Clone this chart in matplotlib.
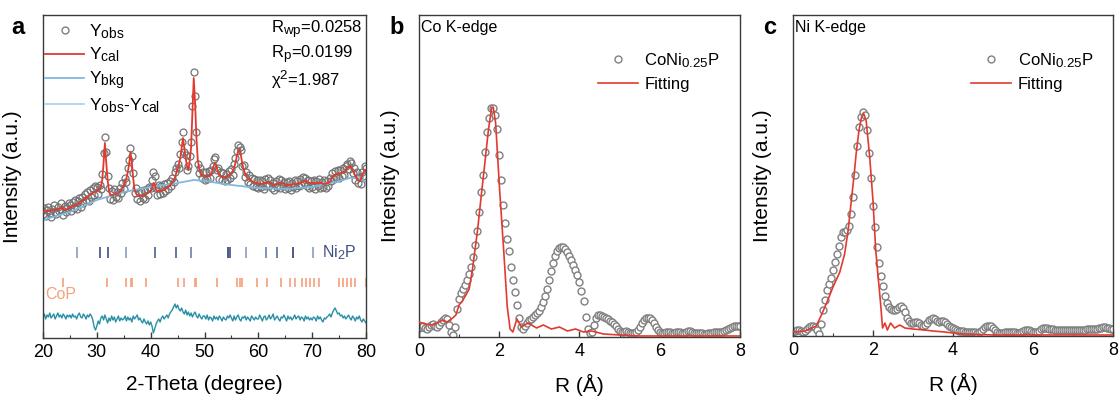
import numpy as np
import matplotlib
matplotlib.use("Agg")
import matplotlib.pyplot as plt
import matplotlib._mathtext as _mt
from matplotlib.lines import Line2D
from matplotlib.ticker import MultipleLocator

_mt.SHRINK_FACTOR = 0.8

plt.rcParams['font.family'] = ['Liberation Sans', 'DejaVu Sans']
plt.rcParams['mathtext.fontset'] = 'custom'
plt.rcParams['mathtext.rm'] = 'Liberation Sans'
plt.rcParams['mathtext.it'] = 'Liberation Sans:italic'
plt.rcParams['mathtext.bf'] = 'Liberation Sans:bold'

# ---------------- Panel a data (XRD refinement) ----------------
two_theta_start = 20.0
two_theta_step = 0.25
y_obs = [
    124,130,122,128,131,125,121,129,133,126,124,131,127,135,128,123,132,126,130,135,
    133,127,136,130,138,129,137,140,131,141,135,144,138,146,137,148,141,150,143,152,
    151,144,153,149,164,185,201,186,162,150,139,147,138,149,141,146,140,150,145,155,
    149,160,156,170,178,190,182,165,145,150,139,146,137,147,140,148,139,149,143,151,
    150,158,166,162,150,143,153,144,152,145,154,147,155,149,157,152,160,156,166,170,
    174,170,184,196,206,186,183,168,172,182,196,232,266,242,206,174,165,170,160,166,
    158,166,159,167,160,168,172,179,181,168,170,159,166,158,165,157,164,158,167,160,
    169,163,174,180,187,193,191,188,172,173,161,166,156,163,154,160,152,159,151,158,
    150,158,151,157,149,159,152,160,153,158,150,155,148,157,151,159,150,158,152,156,
    149,156,150,157,148,155,151,158,150,157,152,159,153,161,155,160,152,158,150,157,
    151,158,149,157,152,159,150,156,151,158,150,157,152,160,157,165,159,167,161,168,
    160,168,162,170,163,172,174,169,177,175,165,170,158,166,155,161,154,166,162,172,
    170,
]
y_cal = [
    126,126,127,127,127,127,128,128,128,128,128,129,129,130,131,129,128,128,129,129,
    131,131,132,132,133,133,134,135,136,137,138,139,140,141,142,143,144,145,146,146,
    147,148,149,151,158,175,195,175,158,147,143,143,143,144,144,144,145,146,148,150,
    152,156,160,166,174,186,175,160,148,145,143,142,142,142,142,143,143,144,145,146,
    147,150,155,154,148,147,147,147,147,148,148,149,150,151,152,154,155,157,160,165,
    169,174,180,190,200,190,180,172,168,177,190,225,260,235,200,178,170,166,163,162,
    162,162,162,162,162,164,168,173,175,171,166,163,162,161,161,161,161,162,163,164,
    165,167,170,175,182,187,188,183,175,169,165,162,160,159,158,157,156,156,155,155,
    154,154,154,154,155,155,155,156,156,155,154,153,153,154,154,154,155,155,155,154,
    153,153,153,153,153,153,154,154,154,154,155,155,156,156,157,157,156,156,155,155,
    155,155,155,155,155,155,155,155,154,154,154,155,155,156,158,161,162,163,164,164,
    164,165,165,166,166,168,170,171,172,170,168,165,162,160,158,157,158,162,165,168,
    168,
]
bkg_theta = [20, 25, 30, 35, 40, 45, 48, 50, 55, 60, 65, 70, 75, 77, 78.5, 80]
bkg_vals = [118, 126, 138, 146, 151, 155, 158, 157, 153, 150, 149, 151, 157, 160, 160, 156]

diff_step = 0.25
diff_vals = [
    20,24,19,23,21,25,20,22,24,19,22,25,21,23,20,24,22,19,23,21,
    23,20,24,21,22,19,23,25,21,20,24,22,19,23,21,24,22,18,11,8,
    12,17,14,20,22,18,23,19,15,20,17,22,18,21,16,19,22,17,20,18,
    19,22,17,21,18,20,16,22,19,21,23,18,20,17,15,19,16,14,17,13,
    16,12,5,9,14,17,19,16,20,22,19,21,23,20,24,26,28,31,34,30,
    33,29,27,30,26,24,28,23,26,22,25,21,24,26,22,20,24,21,19,22,
    22,19,23,18,21,20,17,22,19,21,18,22,20,17,21,19,18,22,20,23,
    20,17,22,18,21,23,19,17,21,20,22,18,21,19,17,22,20,18,21,19,
    19,23,20,17,21,22,18,20,23,19,21,24,18,20,22,19,17,21,20,23,
    20,17,22,19,21,18,20,23,19,21,22,18,21,20,17,22,19,21,18,20,
    18,21,20,17,22,19,21,18,16,20,19,21,22,24,21,25,28,30,27,24,
    25,22,23,20,22,19,21,23,20,18,22,20,17,21,19,22,18,16,19,17,
    15,
]

ni2p_pos = [26.4, 30.6, 32.0, 35.4, 40.8, 44.7, 47.5, 54.3, 54.7, 57.7, 61.4, 63.5, 66.5, 70.1]
ni2p_shade = ['#8a9cc0', '#3c4f82', '#3c4f82', '#8a9cc0', '#4e6090', '#4e6090', '#6d80aa',
              '#2f3f70', '#3c4f82', '#8a9cc0', '#6d80aa', '#5a6c9a', '#2f3f70', '#8a9cc0']
cop_pos = [23.8, 31.8, 35.4, 36.3, 36.6, 39.1, 45.1, 46.2, 48.2, 48.4, 52.3, 56.0, 56.5,
           56.9, 59.7, 61.6, 64.2, 65.9, 66.8, 68.1, 68.9, 69.6, 70.4, 71.2, 74.9, 75.7,
           76.5, 77.2, 78.0, 80.0]

# ---------------- Panel b data (Co K-edge) ----------------
R_step = 0.05
co_obs = [
    9,10,11,9,8,10,12,13,11,10,12,15,17,19,18,12,5,2,10,28,
    38,44,48,52,57,63,70,80,92,106,125,145,162,185,205,219,229,229,222,208,
    182,157,132,114,98,86,70,57,45,32,19,10,8,11,14,17,18,20,22,24,
    26,30,35,41,48,57,66,74,81,86,89,90,90,88,85,81,77,72,67,62,
    55,46,36,20,8,4,5,12,19,22,22,21,20,19,18,16,15,13,11,8,
    6,5,5,6,5,4,4,4,5,7,10,14,17,19,19,19,17,14,10,7,
    5,4,4,5,5,5,4,4,5,5,5,4,4,5,6,6,5,4,4,4,
    4,4,3,3,4,4,4,5,5,5,5,5,6,7,8,9,10,11,11,11,
    11,
]
co_fit_R = [0.0, 0.15, 0.34, 0.5, 0.59, 0.7, 0.84, 0.92, 1.0, 1.08, 1.17, 1.25, 1.33, 1.46,
            1.54, 1.63, 1.73, 1.81, 1.85, 1.91, 2.01, 2.12, 2.2, 2.27, 2.34, 2.44, 2.55,
            2.72, 2.93, 3.1, 3.3, 3.5, 3.7, 3.9, 4.1, 4.3, 4.6, 5.0, 5.5, 6.0, 7.0, 8.0]
co_fit = [15, 13, 12, 15, 17, 15, 19, 22, 32, 36, 42, 48, 67, 107,
          137, 170, 207, 229, 230, 214, 147, 81, 30, 8, 5, 18, 10,
          14, 9, 12, 8, 10, 6, 8, 5, 6, 3, 2, 1, 1, 1, 1]

# ---------------- Panel c data (Ni K-edge) ----------------
ni_obs = [
    4,5,6,6,5,4,5,7,9,10,10,9,6,2,12,26,36,46,52,58,
    66,74,82,90,99,104,104,106,110,122,139,162,191,210,220,225,222,207,184,158,
    130,109,89,73,60,50,40,33,29,27,26,26,27,29,30,28,24,18,15,13,
    13,14,14,13,11,10,11,13,16,17,18,17,15,14,15,15,14,12,10,9,
    8,7,6,5,5,5,4,4,4,4,4,4,3,4,5,7,9,10,10,10,
    8,6,4,3,3,3,4,4,4,4,4,4,3,3,4,5,6,6,6,5,
    4,4,4,5,7,8,8,8,7,7,7,6,6,6,6,6,6,6,6,6,
    6,6,6,6,6,6,6,7,7,7,7,7,7,8,8,9,9,8,8,7,
    7,
]
ni_fit_R = [0.0, 0.3, 0.58, 0.7, 0.84, 1.0, 1.17, 1.29, 1.38, 1.46, 1.54, 1.58, 1.65, 1.71,
            1.77, 1.83, 1.92, 2.0, 2.07, 2.13, 2.19, 2.24, 2.3, 2.36, 2.44, 2.54, 2.67,
            2.8, 3.0, 3.3, 3.5, 3.8, 4.0, 4.3, 5.0, 6.0, 7.0, 8.0]
ni_fit = [4, 5, 10, 20, 33, 49, 64, 82, 106, 136, 166, 183, 206, 219,
          223, 216, 179, 136, 86, 59, 33, 8, 13, 6, 13, 8, 11,
          8, 7, 6, 5, 4, 3, 2, 1, 1, 1, 1]

# ---------------- styling ----------------
RED = '#e23a2e'
SPINE = '#3a3a3a'
TICK_FS = 13
LABEL_FS = 15

fig = plt.figure(figsize=(11.2, 3.99), dpi=100)
axa = fig.add_axes([0.0384, 0.1529, 0.2884, 0.8095])
axb = fig.add_axes([0.3741, 0.1554, 0.2866, 0.8070])
axc = fig.add_axes([0.7080, 0.1579, 0.2857, 0.8045])

def style(ax):
    for s in ax.spines.values():
        s.set_color(SPINE)
        s.set_linewidth(1.0)
    ax.tick_params(axis='x', which='both', direction='in', colors=SPINE,
                   labelcolor='black', labelsize=TICK_FS, pad=4)
    ax.tick_params(axis='x', which='major', length=4, width=1)
    ax.tick_params(axis='x', which='minor', length=2.5, width=0.8)
    ax.set_yticks([])

# ---- panel a ----
tt = two_theta_start + two_theta_step * np.arange(len(y_obs))
tt_d = two_theta_start + diff_step * np.arange(len(diff_vals))
axa.plot(tt, y_obs, 'o', ms=5, mfc='none', mec='#747474', mew=0.9, zorder=2)
axa.plot(tt, y_cal, '-', color=RED, lw=1.3, zorder=3)
axa.plot(bkg_theta, bkg_vals, '-', color='#80b9e0', lw=1.3, zorder=2.5)
axa.plot(tt_d, diff_vals, '-', color='#2a8fa6', lw=1.0, zorder=2)
axa.vlines(ni2p_pos, 80, 91, colors=ni2p_shade, lw=1.2)
axa.vlines(cop_pos, 51, 60, colors='#f7a07c', lw=1.2)
axa.text(78.3, 85, r'Ni$_2$P', color='#3e5184', fontsize=11.5, ha='right', va='center')
axa.text(20.4, 43, 'CoP', color='#f7a07c', fontsize=11.5, ha='left', va='center')
axa.set_xlim(20, 80)
axa.set_ylim(0, 323)
axa.xaxis.set_major_locator(MultipleLocator(10))
axa.xaxis.set_minor_locator(MultipleLocator(5))
style(axa)
axa.set_xlabel('2-Theta (degree)', fontsize=LABEL_FS)
axa.xaxis.set_label_coords(0.5, -0.115)
axa.set_ylabel('Intensity (a.u.)', fontsize=LABEL_FS)
axa.yaxis.set_label_coords(-0.066, 0.5)

handles_a = [
    Line2D([], [], ls='none', marker='o', ms=5, mfc='none', mec='#747474', mew=0.9),
    Line2D([], [], color=RED, lw=1.3),
    Line2D([], [], color='#80b9e0', lw=1.3),
    Line2D([], [], color='#a8d6ec', lw=1.3),
]
labels_a = [r'Y$_{\mathrm{obs}}$', r'Y$_{\mathrm{cal}}$', r'Y$_{\mathrm{bkg}}$',
            r'Y$_{\mathrm{obs}}$-Y$_{\mathrm{cal}}$']
axa.legend(handles_a, labels_a, loc='upper left', bbox_to_anchor=(-0.026, 1.01),
           frameon=False, fontsize=12.5, handlelength=2.25, handletextpad=0.3,
           labelspacing=0.28, borderaxespad=0.2)
axa.text(0.705, 0.955, r'R$_{\mathrm{wp}}$=0.0258', transform=axa.transAxes,
         fontsize=12, ha='left', va='center')
axa.text(0.705, 0.877, r'R$_{\mathrm{p}}$=0.0199', transform=axa.transAxes,
         fontsize=12, ha='left', va='center')
axa.text(0.705, 0.80, r'χ$^{2}$=1.987', transform=axa.transAxes,
         fontsize=12, ha='left', va='center')

# ---- panels b and c ----
def exafs(ax, obs, fit_R, fit, edge):
    R = R_step * np.arange(len(obs))
    ax.plot(R, obs, 'o', ms=5, mfc='white', mec='#808080', mew=1.0, zorder=2)
    ax.plot(fit_R, fit, '-', color=RED, lw=1.2, zorder=3)
    ax.set_xlim(0, 8)
    ax.set_ylim(0, 322)
    ax.xaxis.set_major_locator(MultipleLocator(2))
    ax.xaxis.set_minor_locator(MultipleLocator(1))
    style(ax)
    ax.set_xlabel('R (Å)', fontsize=LABEL_FS)
    ax.xaxis.set_label_coords(0.5, -0.115)
    ax.set_ylabel('Intensity (a.u.)', fontsize=LABEL_FS)
    ax.text(0.006, 0.985, edge, transform=ax.transAxes, fontsize=11.5,
            ha='left', va='top')
    h = [Line2D([], [], ls='none', marker='o', ms=5, mfc='white', mec='#808080', mew=1.0),
         Line2D([], [], color=RED, lw=1.2)]
    ax.legend(h, [r'CoNi$_{0.25}$P', 'Fitting'], loc='upper left',
              bbox_to_anchor=(0.51, 0.935), frameon=False, fontsize=12,
              handlelength=2.4, handletextpad=0.4, labelspacing=0.42)

exafs(axb, co_obs, co_fit_R, co_fit, 'Co K-edge')
axb.yaxis.set_label_coords(-0.059, 0.5)
exafs(axc, ni_obs, ni_fit_R, ni_fit, 'Ni K-edge')
axc.yaxis.set_label_coords(-0.066, 0.5)

fig.text(18 / 1120, 1 - 28 / 399, 'a', fontsize=17, fontweight='bold', ha='center', va='center')
fig.text(397 / 1120, 1 - 28 / 399, 'b', fontsize=17, fontweight='bold', ha='center', va='center')
fig.text(770 / 1120, 1 - 28 / 399, 'c', fontsize=17, fontweight='bold', ha='center', va='center')

fig.savefig('out.png', dpi=100, facecolor='white')
